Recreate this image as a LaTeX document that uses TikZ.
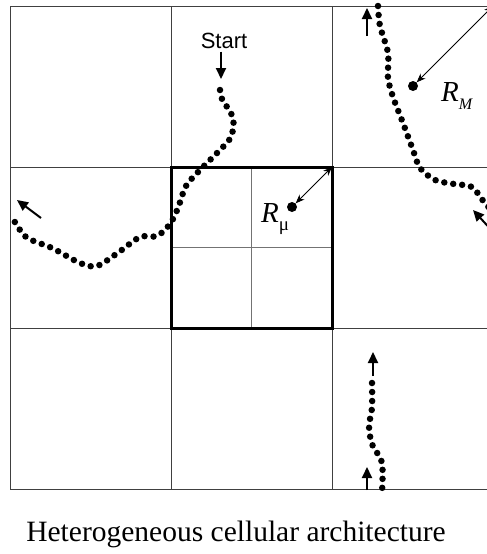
\documentclass[tikz,border=0pt]{standalone}
\usepackage{fontspec}
\setmainfont{Liberation Serif}
\setsansfont{Liberation Sans}
\usetikzlibrary{arrows.meta}
\tikzset{
  >={Triangle[length=11pt,width=10pt]},
  cell/.style={draw=black!75,line width=1pt},
  subcell/.style={draw=black!55,line width=1pt},
  macro/.style={draw=black,line width=3pt},
  trail/.style={line width=6.5pt,line cap=round,dash pattern=on 0pt off 9pt},
  move/.style={->,line width=2pt},
  reach/.style={{Stealth[length=9pt,width=7pt]}-{Stealth[length=9pt,width=7pt]},line width=0.8pt},
  site/.style={circle,fill,inner sep=0pt,minimum size=10pt},
  lbl/.style={font=\fontsize{29}{32}\selectfont,inner sep=0pt,anchor=base west},
}

\begin{document}
\begin{tikzpicture}[x=1pt,y=-1pt]
  \useasboundingbox (0,0) rectangle (487,554);
  \clip (0,0) rectangle (487,554);
  % cells
  \foreach \y in {6,167,328,489} \draw[cell] (10,\y) -- (500,\y);
  \foreach \x in {10,171,332} \draw[cell] (\x,6) -- (\x,489);
  \draw[subcell] (251.5,167) -- (251.5,328) (171,247.5) -- (332,247.5);
  \draw[macro] (171,167) rectangle (332,328);
  % base stations
  \node[site] (bsM) at (413,86) {};
  \node[site] (bsU) at (292,207) {};
  \coordinate (cM) at (493,6);
  \coordinate (cU) at (332,167);
  \draw[reach] (bsM) -- (cM);
  \draw[reach] (bsU) -- (cU);
  \node[lbl] (rM) at (441,101) {\textit{R}\raisebox{-8pt}{\fontsize{16}{16}\selectfont\itshape M}};
  \node[lbl] (rU) at (261,222) {\textit{R}\raisebox{-8pt}{\fontsize{19}{19}\selectfont μ}};
  % user trails
  \node[font=\sffamily\fontsize{22}{26}\selectfont,anchor=base] (start) at (224,48) {Start};
  \coordinate (s0) at (221,79);
  \draw[move] (start.south -| s0) -- (s0);
  \draw[trail] plot[smooth] coordinates {(220,90) (222,99) (233,118) (231,137) (218,152) (200,170)
    (186,186) (178,208) (170,224) (157,236) (140,237) (119,252) (97,266) (80,263) (52,248) (26,237) (12,217)};
  \draw[trail] plot[smooth] coordinates {(378,6) (380,26) (388,53) (388,78) (393,97) (403,123)
    (413,150) (420,168) (435,180) (454,184) (472,187) (484,202) (495,214)};
  \draw[trail] plot[smooth] coordinates {(372,383) (372,408) (369,426) (372,444) (382,463) (382,492)};
  \coordinate (a0) at (41,218);  \coordinate (a1) at (17,200);
  \coordinate (b0) at (367,36);  \coordinate (b1) at (367,8);
  \coordinate (c0) at (495,234); \coordinate (c1) at (473,210);
  \coordinate (d0) at (373,376); \coordinate (d1) at (373,352);
  \coordinate (e0) at (367,490); \coordinate (e1) at (367,467);
  \draw[move] (a0) -- (a1);
  \draw[move] (b0) -- (b1);
  \draw[move] (c0) -- (c1);
  \draw[move] (d0) -- (d1);
  \draw[move] (e0) -- (e1);
  \node[font=\fontsize{29.5}{33}\selectfont,anchor=base] (caption) at (236,541) {Heterogeneous cellular architecture};
\end{tikzpicture}
\end{document}
